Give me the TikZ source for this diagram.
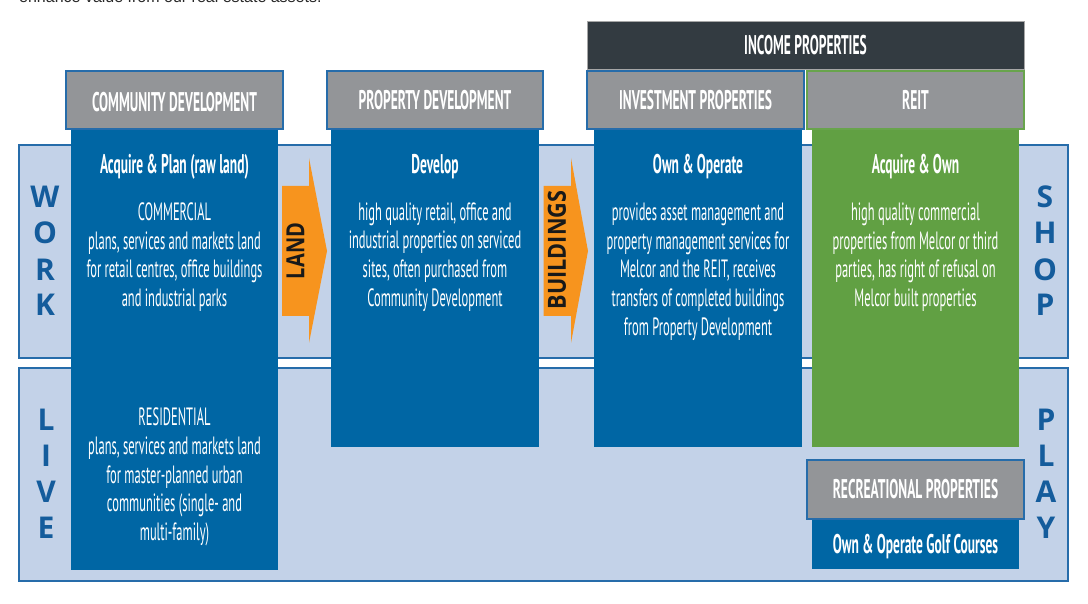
\documentclass[tikz,border=0pt]{standalone}
\usepackage{fontspec}
\newfontfamily\bodyf[FakeStretch=0.5]{PT Sans}
\newfontfamily\headf[FakeStretch=0.5]{PT Sans}
\newfontfamily\sidef{Open Sans}
\newfontfamily\arrf[FakeStretch=0.8]{Open Sans}
\newfontfamily\topf{Liberation Sans}
\definecolor{colblue}{RGB}{0,102,164}
\definecolor{bandfill}{RGB}{195,210,232}
\definecolor{bandline}{RGB}{38,108,170}
\definecolor{hdgray}{RGB}{147,149,152}
\definecolor{hddark}{RGB}{51,59,65}
\definecolor{reitgreen}{RGB}{97,160,67}
\definecolor{reitline}{RGB}{104,164,76}
\definecolor{arrorange}{RGB}{247,148,30}
\definecolor{letblue}{RGB}{20,92,156}
\definecolor{toptext}{RGB}{40,40,40}
\tikzset{
  band/.style={draw=bandline, line width=1.3pt, fill=bandfill},
  colfill/.style={fill=colblue},
  greenfill/.style={fill=reitgreen},
  hdbox/.style={fill=hdgray, draw=bandline, line width=1.6pt},
  reitbox/.style={fill=hdgray, draw=reitline, line width=1.6pt},
  darkbox/.style={fill=hddark, draw=gray!70, line width=0.8pt},
  arrowshape/.style={fill=arrorange},
  bodytxt/.style={text=white, align=center, inner sep=0pt,
    font=\bodyf\fontsize{25}{28.7}\selectfont},
  ttltxt/.style={text=white, inner sep=0pt,
    font=\headf\bfseries\fontsize{27}{28}\selectfont},
  hdtxt/.style={text=white, inner sep=0pt,
    font=\headf\bfseries\fontsize{27}{28}\selectfont},
  sidelet/.style={text=letblue, inner sep=0pt,
    font=\sidef\bfseries\fontsize{30}{30}\selectfont},
  arrtxt/.style={text=black!90, inner sep=0pt, rotate=90,
    font=\arrf\bfseries\fontsize{25}{25}\selectfont},
}
\begin{document}
\begin{tikzpicture}[x=1pt,y=-1pt]
\useasboundingbox (0,0) rectangle (1088,604);
\fill[white] (0,0) rectangle (1088,604);
% cut-off line of text at the very top
\begin{scope}
\clip (0,0) rectangle (1088,604);
\node[anchor=base west, inner sep=0pt, text=toptext,
  font=\topf\fontsize{16}{18}\selectfont] (intro) at (19,3)
  {enhance value from our real estate assets.};
\end{scope}
% bands
\path[band] (19,145) rectangle (1068,358);
\path[band] (19,368) rectangle (1068,581);
% columns
\path[colfill] (71,129) rectangle (278,570);
\path[colfill] (331,129) rectangle (539,447);
\path[colfill] (594,129) rectangle (802,447);
\path[greenfill] (812,129) rectangle (1019,447);
\path[colfill] (812,519) rectangle (1019,569);
% headers
\path[hdbox] (66,71) rectangle (283,129);
\path[hdbox] (327,71) rectangle (543,129);
\path[hdbox] (587,71) rectangle (804,129);
\path[reitbox] (807,71) rectangle (1024,129);
\path[darkbox] (587,21) rectangle (1024,69);
\path[hdbox] (807,460) rectangle (1024,519);
% arrows
\path[arrowshape] (282,186) -- (309,186) -- (309,158) -- (327,251)
  -- (309,343) -- (309,316) -- (282,316) -- cycle;
\path[arrowshape] (543.5,186) -- (571,186) -- (571,158) -- (588,251)
  -- (571,343) -- (571,316) -- (543.5,316) -- cycle;
\node[arrtxt] (land) at (295.5,251) {LAND};
\node[arrtxt, xscale=1.08] (bldg) at (557,250) {BUILDINGS};
% header texts
\node[hdtxt] (hcd) at (174.5,102) {COMMUNITY DEVELOPMENT};
\node[hdtxt] (hpd) at (435,100) {PROPERTY DEVELOPMENT};
\node[hdtxt] (hip) at (695.5,100) {INVESTMENT PROPERTIES};
\node[hdtxt] (hreit) at (915.5,100) {REIT};
\node[hdtxt] (hinc) at (805.5,45) {INCOME PROPERTIES};
\node[hdtxt] (hrec) at (915.5,489) {RECREATIONAL PROPERTIES};
% titles
\node[ttltxt] (tcd) at (174.5,167) {Acquire \& Plan (raw land)};
\node[ttltxt] (tpd) at (435,167) {Develop};
\node[ttltxt] (tip) at (698,167) {Own \& Operate};
\node[ttltxt] (treit) at (915.5,167) {Acquire \& Own};
\node[ttltxt] (tgolf) at (915.5,547) {Own \& Operate Golf Courses};
% body texts
\node[bodytxt] (bcom) at (174.5,257) {COMMERCIAL\\plans, services and markets land\\for retail centres, office buildings\\and industrial parks};
\node[bodytxt] (bres) at (174.5,477) {RESIDENTIAL\\plans, services and markets land\\for master-planned urban\\communities (single- and\\multi-family)};
\node[bodytxt] (bpd) at (435,257) {high quality retail, office and\\industrial properties on serviced\\sites, often purchased from\\Community Development};
\node[bodytxt] (bip) at (698,271.5) {provides asset management and\\property management services for\\Melcor and the REIT, receives\\transfers of completed buildings\\from Property Development};
\node[bodytxt] (breit) at (915.5,257) {high quality commercial\\properties from Melcor or third\\parties, has right of refusal on\\Melcor built properties};
% side letters
\node[sidelet] (w1) at (45,197) {W};
\node[sidelet] (w2) at (45,233) {O};
\node[sidelet] (w3) at (45,270) {R};
\node[sidelet] (w4) at (45,305) {K};
\node[sidelet] (l1) at (46,420) {L};
\node[sidelet] (l2) at (46,456) {I};
\node[sidelet] (l3) at (46,492) {V};
\node[sidelet] (l4) at (46,528) {E};
\node[sidelet] (s1) at (1045,197) {S};
\node[sidelet] (s2) at (1045,233) {H};
\node[sidelet] (s3) at (1045,270) {O};
\node[sidelet] (s4) at (1045,305) {P};
\node[sidelet] (p1) at (1046,420) {P};
\node[sidelet] (p2) at (1046,456) {L};
\node[sidelet] (p3) at (1046,492) {A};
\node[sidelet] (p4) at (1046,528) {Y};
\end{tikzpicture}
\end{document}
